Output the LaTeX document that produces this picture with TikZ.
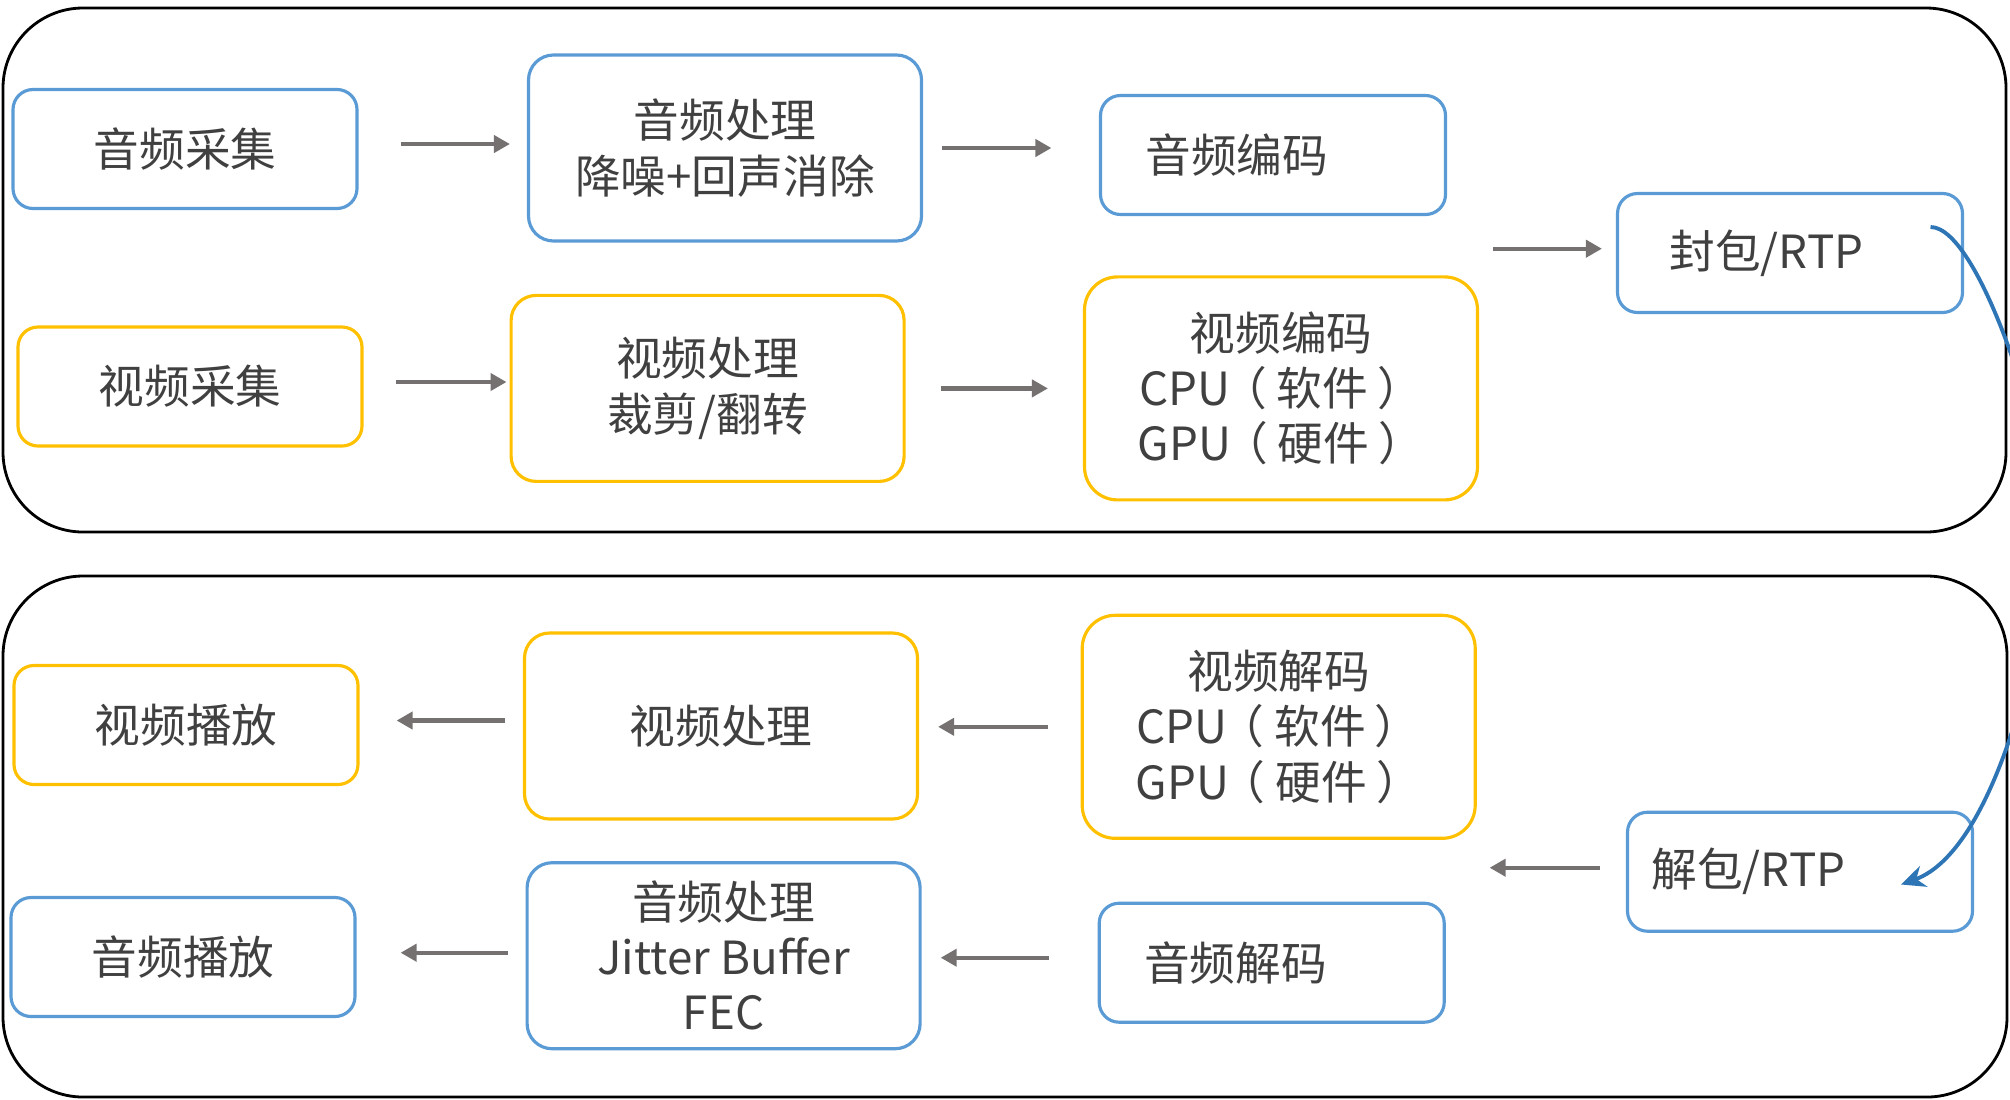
\documentclass[tikz,border=0pt]{standalone}
\usepackage{fontspec}
\setmainfont{Noto Sans CJK SC}
\usetikzlibrary{arrows.meta,calc}
\definecolor{audioblue}{HTML}{5B9BD5}
\definecolor{videoyellow}{HTML}{FFC000}
\definecolor{arrowgray}{HTML}{767171}
\definecolor{linkblue}{HTML}{2E75B6}
\definecolor{txtgray}{HTML}{404040}

\begin{document}
\begin{tikzpicture}[%
  audio/.style={rectangle, draw=audioblue, line width=0.9pt, rounded corners=2mm, text=txtgray, align=center, minimum width=3.44cm, minimum height=1.19cm},
  video/.style={audio, draw=videoyellow},
  mid/.style={minimum width=3.93cm, minimum height=1.86cm, rounded corners=2.5mm},
  big/.style={minimum width=3.93cm, minimum height=2.23cm, rounded corners=3.3mm},
  flow/.style={-{Triangle[length=1.6mm, width=1.7mm]}, draw=arrowgray, line width=1.2pt},
  link/.style={-{Stealth[length=2.4mm, width=2.2mm]}, draw=linkblue, line width=1.1pt},
  frame/.style={draw=black, line width=0.8pt, rounded corners=8mm},
  ]
  \useasboundingbox (0,0) rectangle (20.10,-10.99);
  \draw[frame] (0.03,-0.08) rectangle (20.06,-5.32);
  \draw[frame] (0.03,-5.76) rectangle (20.07,-10.97);
  {\fontsize{13pt}{15.7pt}\selectfont
    % sending side
    \node[audio] (aucap) at (1.85,-1.49) {音频采集};
    \node[audio, mid] (auproc) at (7.25,-1.48) {音频处理\\降噪+回声消除};
    \node[audio, align=left, inner xsep=4.5mm, text width=2.55cm] (auenc) at (12.73,-1.55) {音频编码};
    \node[audio, align=left, inner xsep=5.2mm, text width=2.41cm] (pack) at (17.90,-2.53) {封包/RTP};
    \node[video] (vicap) at (1.90,-3.865) {视频采集};
    \node[video, mid] (viproc) at (7.076,-3.884) {视频处理\\裁剪/翻转};
    \node[video, big] (vienc) at (12.81,-3.884) {视频编码\\CPU\hspace{-0.2em}（\hspace{0.22em}软件\hspace{0.2em}）\\GPU\hspace{-0.2em}（\hspace{0.22em}硬件\hspace{0.2em}）};
    \coordinate (mux) at (14.934,-2.487);
    % receiving side
    \node[video] (viplay) at (1.86,-7.25) {视频播放};
    \node[video, mid] (viproc2) at (7.21,-7.26) {视频处理};
    \node[video, big] (videc) at (12.787,-7.268) {视频解码\\CPU\hspace{-0.2em}（\hspace{0.22em}软件\hspace{0.2em}）\\GPU\hspace{-0.2em}（\hspace{0.22em}硬件\hspace{0.2em}）};
    \node[audio, align=left, inner xsep=2.4mm, text width=2.97cm] (unpack) at (18.00,-8.717) {解包/RTP};
    \node[audio] (auplay) at (1.83,-9.57) {音频播放};
    \node[audio, mid] (auproc2) at (7.236,-9.557) {音频处理\\Jitter Buffer\\FEC};
    \node[audio, align=left, inner xsep=4.5mm, text width=2.55cm] (audec) at (12.717,-9.627) {音频解码};
    \coordinate (demux) at (14.896,-8.678);
  }
  \draw[flow, shorten <=4.2mm, shorten >=1.7mm] ([yshift=0.5mm]aucap.east) -- ([yshift=0.5mm]aucap.east -| auproc.west);
  \draw[flow, shorten <=1.9mm, shorten >=4.75mm] (auproc.east) -- (auproc.east -| auenc.west);
  \draw[flow, shorten >=1.4mm] (mux) -- (mux -| pack.west);
  \draw[flow, shorten <=3.2mm, shorten >=0.3mm] ([yshift=0.45mm]vicap.east) -- ([yshift=0.45mm]vicap.east -| viproc.west);
  \draw[flow, shorten <=3.5mm, shorten >=3.5mm] (viproc.east) -- (viproc.east -| vienc.west);
  \draw[flow, shorten <=1.8mm, shorten >=3.7mm] ([yshift=0.55mm]viproc2.west) -- ([yshift=0.55mm]viproc2.west -| viplay.east);
  \draw[flow, shorten <=3.3mm, shorten >=1.9mm] (videc.west) -- (videc.west -| viproc2.east);
  \draw[flow, shorten <=2.6mm] ([yshift=0.4mm]unpack.west) -- ([yshift=0.4mm]unpack.west -| demux);
  \draw[flow, shorten <=1.8mm, shorten >=4.4mm] ([yshift=0.3mm]auproc2.west) -- ([yshift=0.3mm]auproc2.west -| auplay.east);
  \draw[flow, shorten <=4.9mm, shorten >=1.9mm] ([yshift=0.5mm]audec.west) -- ([yshift=0.5mm]audec.west -| auproc2.east);
  % network link, partly outside the page
  \coordinate (linkout) at ($(pack.center)+(1.405,0.26)$);
  \coordinate (linkmid) at (20.5,-5.3);
  \coordinate (linkin) at ($(unpack.center)+(1.01,-0.128)$);
  \begin{scope}
    \clip (0,0) rectangle (20.10,-10.99);
    \draw[link] (linkout) .. controls +(0.5,0) and +(0,0.8) .. (linkmid)
      .. controls +(0,-0.8) and +(1.0,0.36) .. (linkin);
  \end{scope}
\end{tikzpicture}
\end{document}
